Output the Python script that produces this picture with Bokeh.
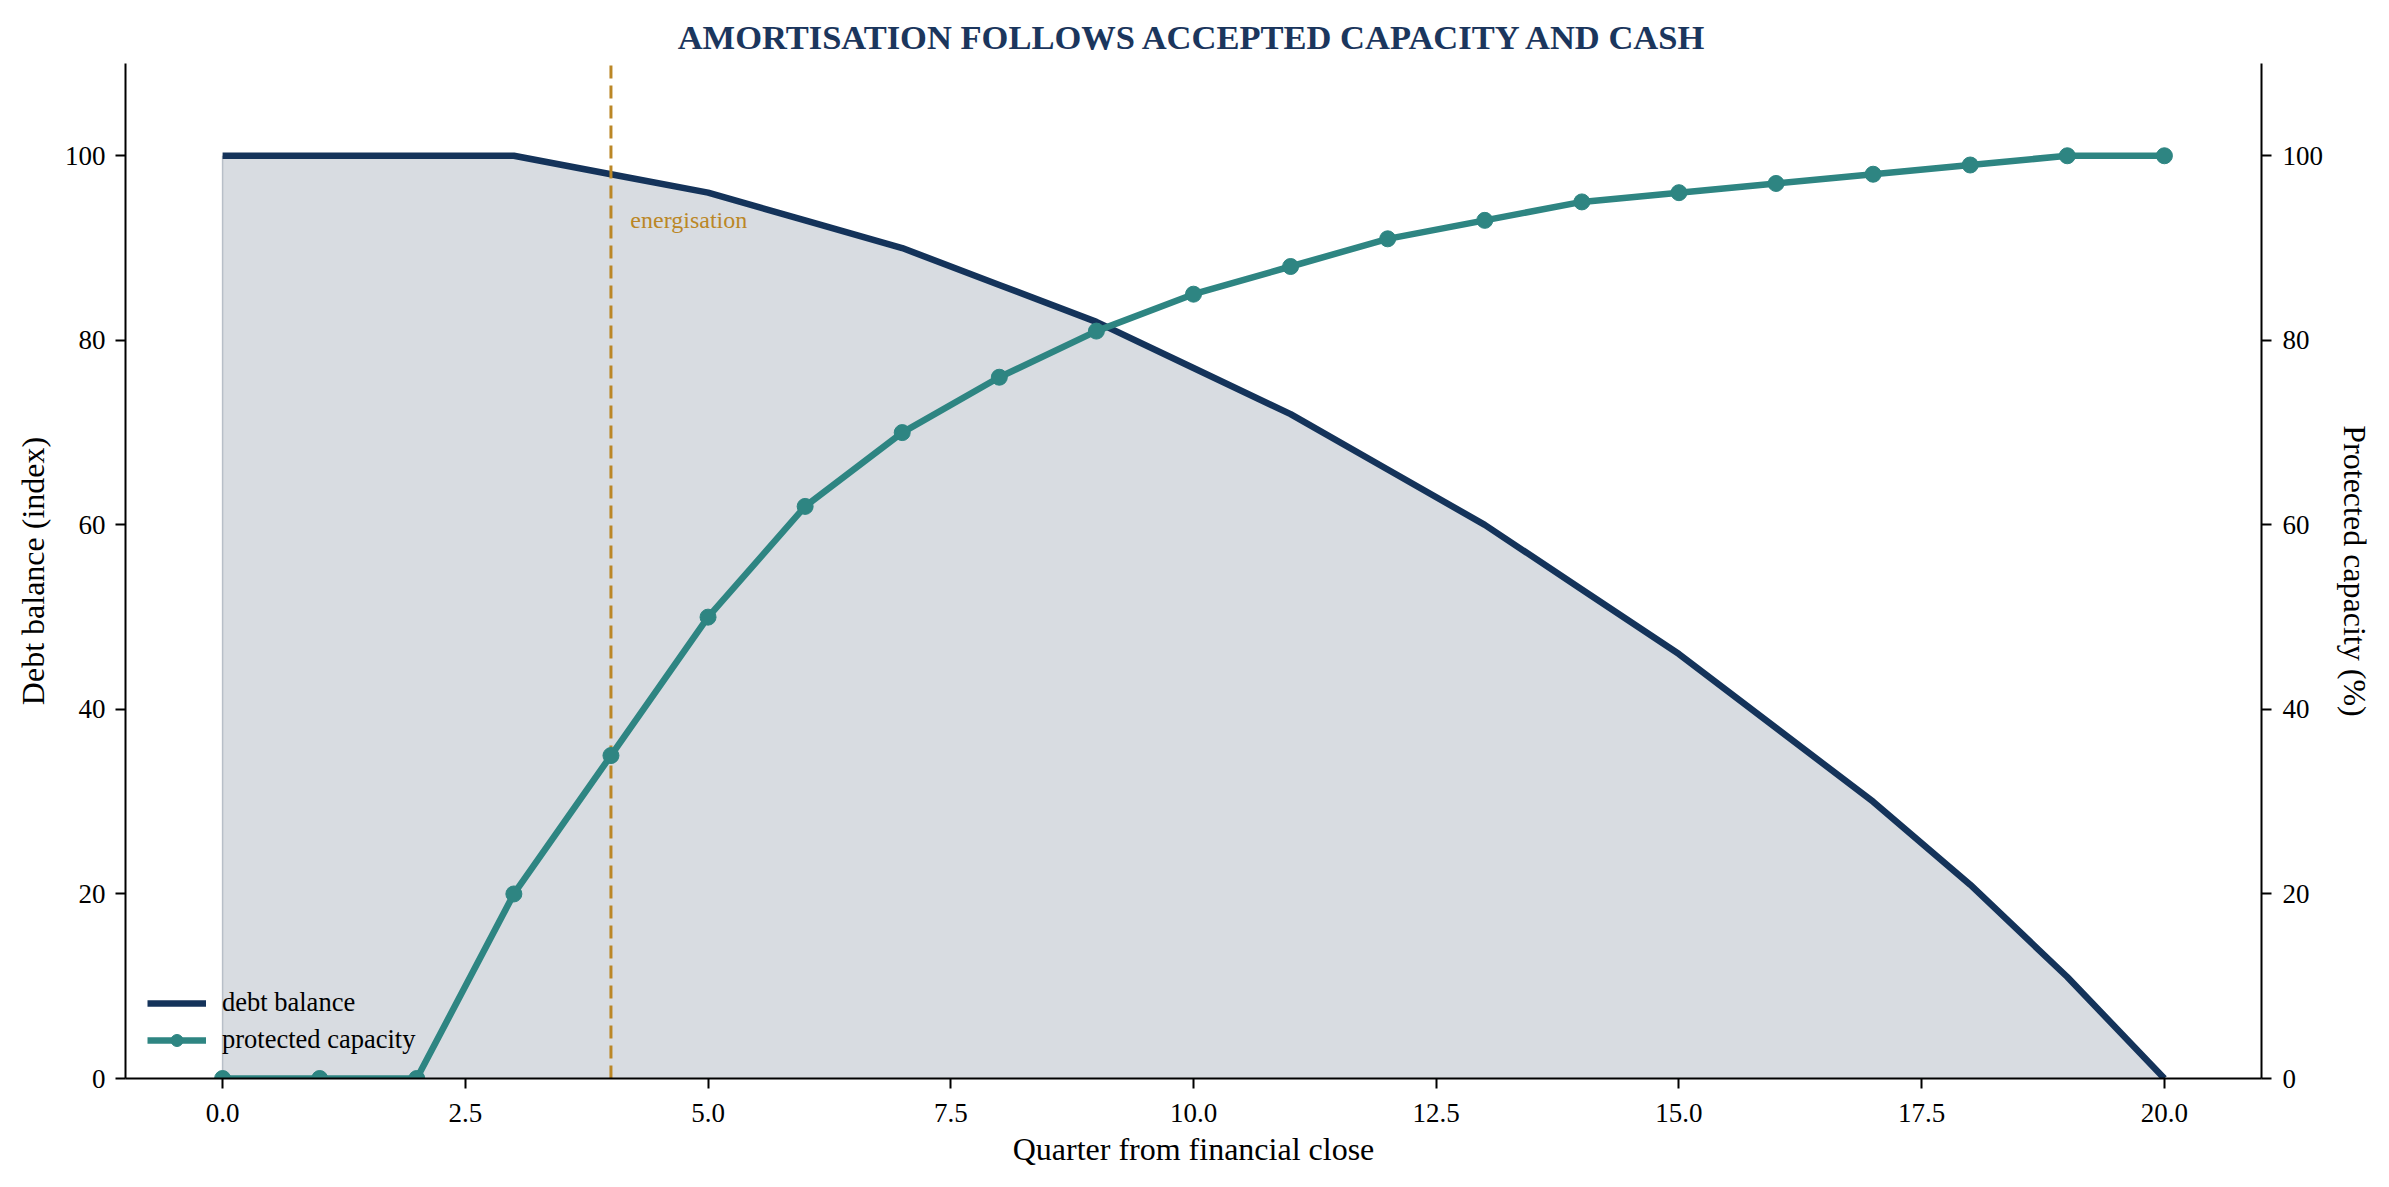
from bokeh.plotting import figure
from bokeh.models import (Range1d, LinearAxis, SingleIntervalTicker, NumeralTickFormatter,
                          Legend, LegendItem, Label)
from bokeh.embed import file_html
from bokeh.resources import INLINE

quarters = list(range(21))
debt_balance = [100, 100, 100, 100, 98, 96, 93, 90, 86, 82, 77, 72, 66, 60, 53, 46, 38, 30, 21, 11, 0]
protected_capacity = [0, 0, 0, 20, 35, 50, 62, 70, 76, 81, 85, 88, 91, 93, 95, 96, 97, 98, 99, 100, 100]
energisation_quarter = 4

NAVY = "#14335a"
TEAL = "#2e8582"
GOLD = "#bb8726"
FONT = "Liberation Serif"

p = figure(frame_width=2136, frame_height=1015,
           x_range=Range1d(-1, 21), y_range=Range1d(0, 110),
           output_backend="svg", toolbar_location=None,
           min_border_left=125, min_border_right=110,
           min_border_top=63, min_border_bottom=92)
p.extra_y_ranges = {"cap": Range1d(0, 110)}
p.outline_line_color = None
p.xgrid.visible = False
p.ygrid.visible = False
p.background_fill_color = "white"

p.title.text = "AMORTISATION FOLLOWS ACCEPTED CAPACITY AND CASH"
p.title.align = "center"
p.title.text_font = FONT
p.title.text_font_size = "34.5px"
p.title.text_font_style = "bold"
p.title.text_color = "#1b365d"
p.title.standoff = 16

# debt balance area + line
p.varea(x=quarters, y1=0, y2=debt_balance, fill_color="#d8dce1")
p.segment(x0=quarters[:1], y0=[0], x1=quarters[:1], y1=debt_balance[:1],
          line_color="#b8bfc8", line_width=1.5)
debt_r = p.line(quarters, debt_balance, line_color=NAVY, line_width=6.5, line_join="round")

# energisation marker
p.segment(x0=[energisation_quarter], y0=[p.y_range.start],
          x1=[energisation_quarter], y1=[p.y_range.end],
          line_color=GOLD, line_width=3, line_dash="13 7")
p.add_layout(Label(x=energisation_quarter + 0.2, y=93, text="energisation",
                   text_font=FONT, text_font_size="24px", text_color=GOLD,
                   text_baseline="middle"))

# protected capacity on the right axis
cap_line = p.line(quarters, protected_capacity, line_color=TEAL, line_width=6.5,
                  line_join="round", y_range_name="cap")
cap_pts = p.scatter(quarters, protected_capacity, size=16, fill_color=TEAL,
                    line_color=TEAL, y_range_name="cap")


def style_axis(ax, label):
    ax.axis_label = label
    ax.axis_label_text_font = FONT
    ax.axis_label_text_font_size = "32px"
    ax.axis_label_text_font_style = "normal"
    ax.axis_label_text_color = "black"
    ax.axis_label_standoff = 11
    ax.major_label_text_font = FONT
    ax.major_label_text_font_size = "27px"
    ax.major_label_text_color = "black"
    ax.axis_line_color = "black"
    ax.axis_line_width = 2
    ax.major_tick_line_color = "black"
    ax.major_tick_line_width = 2
    ax.major_tick_out = 10
    ax.major_tick_in = 0
    ax.minor_tick_line_color = None


xa = p.xaxis[0]
xa.ticker = SingleIntervalTicker(interval=2.5, num_minor_ticks=0)
xa.formatter = NumeralTickFormatter(format="0.0")
style_axis(xa, "Quarter from financial close")
xa.major_label_standoff = 15
xa.axis_label_standoff = 6

ya = p.yaxis[0]
ya.ticker = SingleIntervalTicker(interval=20, num_minor_ticks=0)
style_axis(ya, "Debt balance (index)")
ya.major_label_standoff = 10

ra = LinearAxis(y_range_name="cap", ticker=SingleIntervalTicker(interval=20, num_minor_ticks=0))
style_axis(ra, "Protected capacity (%)")
ra.major_label_standoff = 11
p.add_layout(ra, "right")

legend = Legend(items=[LegendItem(label="debt balance", renderers=[debt_r]),
                       LegendItem(label="protected capacity", renderers=[cap_line, cap_pts])],
                location=(14, 15), padding=8, spacing=6,
                glyph_width=59, glyph_height=30, label_height=30, label_standoff=16,
                label_text_font=FONT, label_text_font_size="26.5px",
                label_text_color="black",
                background_fill_alpha=0, border_line_alpha=0)
p.add_layout(legend)

open("out.html", "w").write(file_html(p, INLINE))
